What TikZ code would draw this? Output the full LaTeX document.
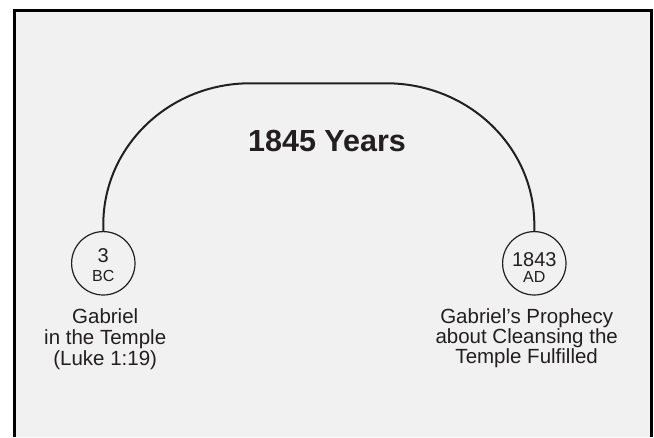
\documentclass[tikz,border=0pt]{standalone}
\usepackage{fontspec}
\setmainfont{Liberation Sans}
\definecolor{ink}{HTML}{231F20}
\definecolor{panel}{HTML}{F1F1F1}
\begin{document}
\begin{tikzpicture}[x=1pt,y=-1pt,
  datecircle/.style={circle,draw=ink,line width=1.2pt,minimum size=63.4pt,inner sep=0pt},
  numtext/.style={anchor=base,inner sep=0pt,text=ink,font=\fontsize{20}{20}\selectfont},
  eratext/.style={anchor=base,inner sep=0pt,text=ink,font=\fontsize{16}{16}\selectfont},
  titletext/.style={anchor=base,inner sep=0pt,text=ink,font=\fontsize{30.5}{30.5}\selectfont\bfseries},
  caption/.style={anchor=north,inner sep=0pt,align=center,text=ink},
  spanline/.style={draw=ink,line width=2pt}]
\useasboundingbox (0,0) rectangle (654,437);
\fill[white] (0,0) rectangle (654,437);
\fill[panel] (14,10) rectangle (652,437);
\draw[black,line width=3pt] (14.5,437) -- (14.5,10.5) -- (651.5,10.5) -- (651.5,437);

\node[datecircle] (a) at (103.3,263.3) {};
\node[datecircle] (b) at (534.3,263.3) {};
\node[numtext] (a3) at (103.3,262.7) {3};
\node[eratext] (abc) at (103.3,281) {BC};
\node[numtext] (b1843) at (534.3,266) {1843};
\node[eratext] (bad) at (534.3,282.7) {AD};

\node[titletext] (title) at (327,151.7) {1845 Years};

\draw[spanline] (a.north) -- (103.3,224.5)
  arc[start angle=180,end angle=90,x radius=146.7pt,y radius=141.2pt]
  -- (386.4,83.3)
  arc[start angle=90,end angle=0,x radius=147.9pt,y radius=141.2pt]
  -- (b.north);

\node[caption,font=\fontsize{20.5}{21.3}\selectfont] (la) at (105.2,308.3)
  {Gabriel\\in the Temple\\(Luke 1:19)};
\node[caption,font=\fontsize{20.5}{20}\selectfont] (lb) at (526.7,308.3)
  {Gabriel’s Prophecy\\about Cleansing the\\Temple Fulfilled};
\end{tikzpicture}
\end{document}
